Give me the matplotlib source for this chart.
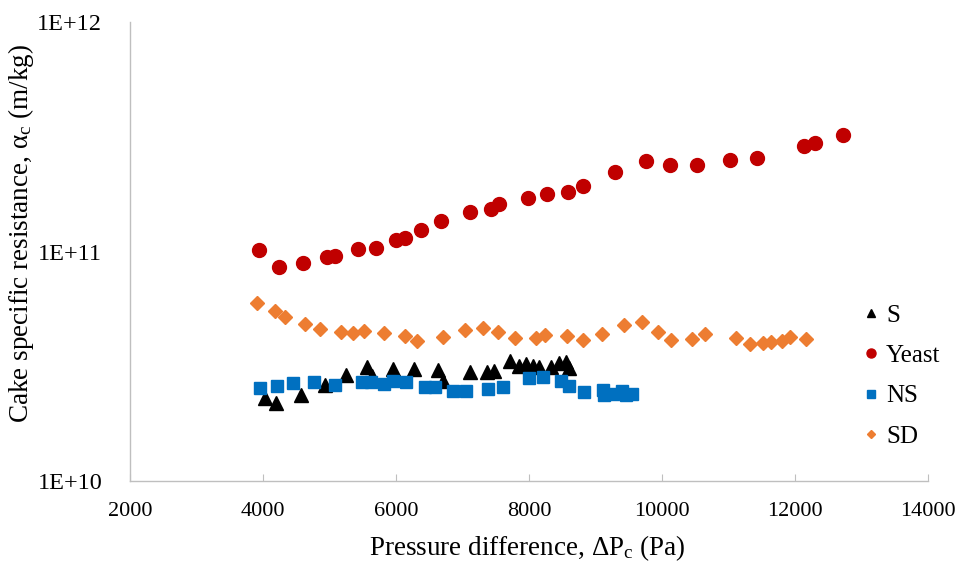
import numpy as np
import matplotlib
matplotlib.use('Agg')
import matplotlib.pyplot as plt

plt.rcParams['font.family'] = ['Liberation Serif', 'DejaVu Serif']
plt.rcParams['mathtext.fontset'] = 'custom'
plt.rcParams['mathtext.rm'] = 'Liberation Serif'
plt.rcParams['mathtext.it'] = 'Liberation Serif:italic'

# S (black triangles)
s_dp = [4036, 4202, 4574, 4930, 5242, 5569, 5645, 5962, 6272, 6634, 6700,
        7117, 7368, 7470, 7715, 7844, 7952, 8058, 8157, 8326, 8444, 8560, 8605]
s_alpha = [2.29e10, 2.18e10, 2.37e10, 2.62e10, 2.90e10, 3.15e10, 2.87e10, 3.08e10,
           3.08e10, 3.06e10, 2.74e10, 3.00e10, 2.98e10, 3.02e10, 3.33e10, 3.17e10,
           3.22e10, 3.16e10, 3.15e10, 3.13e10, 3.27e10, 3.30e10, 3.10e10]

# Yeast (red circles)
yeast_dp = [3934, 4243, 4604, 4956, 5080, 5436, 5692, 6007, 6137, 6383, 6678,
            7113, 7429, 7545, 7985, 8266, 8581, 8811, 9292, 9753, 10125, 10524,
            11020, 11436, 12128, 12308, 12729]
yeast_alpha = [1.015e11, 8.56e10, 8.91e10, 9.46e10, 9.56e10, 1.029e11, 1.039e11,
               1.119e11, 1.145e11, 1.241e11, 1.358e11, 1.482e11, 1.537e11, 1.611e11,
               1.705e11, 1.775e11, 1.811e11, 1.925e11, 2.227e11, 2.472e11, 2.375e11,
               2.389e11, 2.497e11, 2.547e11, 2.873e11, 2.962e11, 3.208e11]

# NS (blue squares)
ns_dp = [3958, 4213, 4454, 4769, 5080, 5482, 5621, 5817, 5956, 6147, 6443, 6593,
         6858, 7049, 7384, 7609, 7998, 8210, 8476, 8601, 8826, 9112, 9127, 9262,
         9397, 9463, 9543]
ns_alpha = [2.535e10, 2.594e10, 2.666e10, 2.692e10, 2.620e10, 2.692e10, 2.692e10,
            2.655e10, 2.727e10, 2.700e10, 2.568e10, 2.560e10, 2.459e10, 2.459e10,
            2.518e10, 2.568e10, 2.811e10, 2.831e10, 2.727e10, 2.594e10, 2.435e10,
            2.492e10, 2.370e10, 2.401e10, 2.467e10, 2.370e10, 2.401e10]

# SD (orange diamonds)
sd_dp = [3913, 4179, 4329, 4630, 4855, 5170, 5346, 5521, 5827, 6132, 6317, 6708,
         7034, 7309, 7534, 7796, 8101, 8240, 8577, 8807, 9103, 9423, 9693, 9938,
         10140, 10455, 10640, 11106, 11316, 11522, 11642, 11797, 11928, 12158]
sd_alpha = [5.98e10, 5.51e10, 5.17e10, 4.82e10, 4.59e10, 4.45e10, 4.43e10, 4.50e10,
            4.40e10, 4.30e10, 4.07e10, 4.24e10, 4.55e10, 4.62e10, 4.45e10, 4.20e10,
            4.18e10, 4.34e10, 4.30e10, 4.12e10, 4.36e10, 4.78e10, 4.93e10, 4.47e10,
            4.12e10, 4.17e10, 4.38e10, 4.19e10, 3.97e10, 3.99e10, 4.03e10, 4.07e10,
            4.23e10, 4.16e10]

x_ticks = [2000, 4000, 6000, 8000, 10000, 12000, 14000]
y_ticks = [1e10, 1e11, 1e12]
y_tick_labels = ['1E+10', '1E+11', '1E+12']

fig = plt.figure(figsize=(9.55, 5.62), dpi=100)
ax = fig.add_axes([130 / 955, 1 - 481 / 562, (928 - 130) / 955, (481 - 22) / 562])

ax.plot(s_dp, s_alpha, linestyle='none', marker='^', markersize=9.5,
        color='black', label='S')
ax.plot(yeast_dp, yeast_alpha, linestyle='none', marker='o', markersize=10,
        color='#C00000', label='Yeast')
ax.plot(ns_dp, ns_alpha, linestyle='none', marker='s', markersize=8,
        color='#0070C0', label='NS')
ax.plot(sd_dp, sd_alpha, linestyle='none', marker='D', markersize=7,
        color='#ED7D31', label='SD')

ax.set_yscale('log')
ax.set_xlim(2000, 14000)
ax.set_ylim(1e10, 1e12)
ax.set_xticks(x_ticks)
ax.set_xticklabels([str(t) for t in x_ticks])
ax.set_yticks(y_ticks)
ax.set_yticklabels(y_tick_labels)
ax.yaxis.set_minor_locator(matplotlib.ticker.NullLocator())

for side in ['top', 'right']:
    ax.spines[side].set_visible(False)
for side in ['left', 'bottom']:
    ax.spines[side].set_color('#BFBFBF')
    ax.spines[side].set_linewidth(1.0)

ax.tick_params(axis='x', direction='in', length=5, color='#BFBFBF',
               labelsize=16, pad=15)
ax.tick_params(axis='y', length=0, labelsize=17.5, pad=20)

ax.set_xlabel('Pressure difference, $\\mathregular{\\Delta P_c}$ (Pa)', fontsize=19.5)
ax.xaxis.set_label_coords((527 - 130) / 798, -(533 - 481) / 459)
fig.text(21 / 955, 1 - 234 / 562,
         'Cake specific resistance, $\\mathregular{\\alpha_c}$ (m/kg)',
         fontsize=19.5, rotation=90, ha='center', va='center')

ax.legend(loc='upper left', bbox_to_anchor=(846 / 955, 1 - 294 / 562),
          bbox_transform=fig.transFigure, frameon=False, fontsize=18,
          handletextpad=0.0, labelspacing=0.72, markerscale=0.65,
          borderaxespad=0, handlelength=1.2)

fig.savefig('out.png', dpi=100)
